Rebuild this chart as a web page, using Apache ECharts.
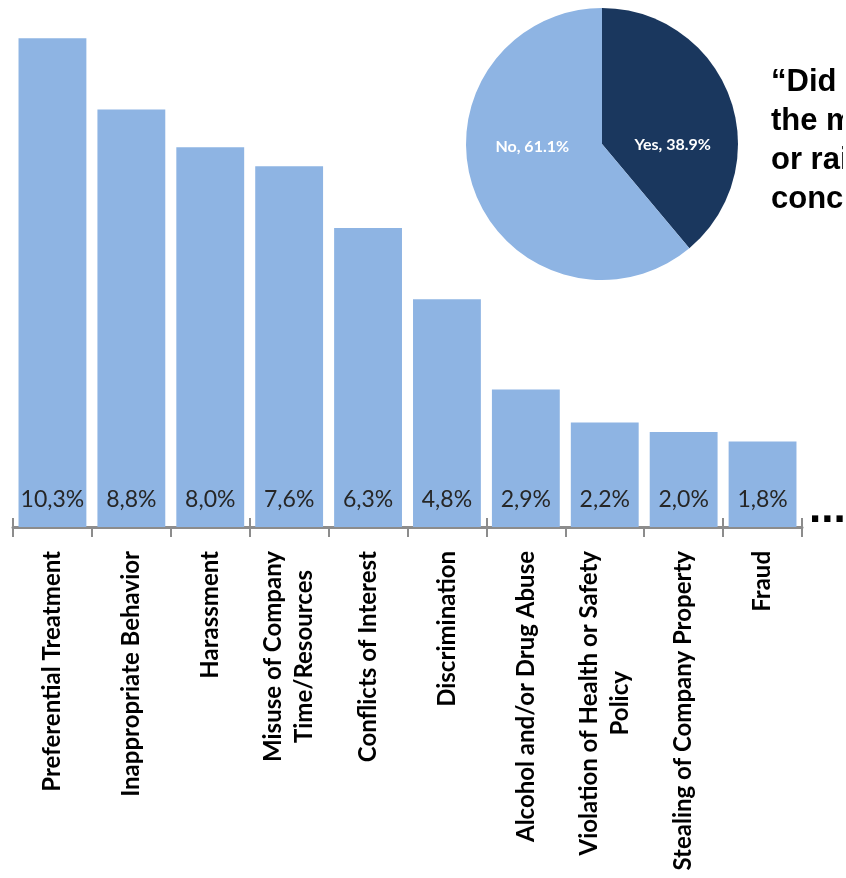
<!DOCTYPE html>
<html>
<head>
<meta charset="utf-8">
<script src="https://cdn.jsdelivr.net/npm/echarts@6/dist/echarts.min.js"></script>
<style>
  html, body { margin: 0; padding: 0; background: #fff; }
  #main { width: 846px; height: 878px; }
</style>
</head>
<body>
<div id="main"></div>
<script>
// categories and values
var categories = [
  'Preferential Treatment',
  'Inappropriate Behavior',
  'Harassment',
  'Misuse of Company\nTime/Resources',
  'Conflicts of Interest',
  'Discrimination',
  'Alcohol and/or Drug Abuse',
  'Violation of Health or Safety\nPolicy',
  'Stealing of Company Property',
  'Fraud'
];
var percents = [10.3, 8.8, 8.0, 7.6, 6.3, 4.8, 2.9, 2.2, 2.0, 1.8];

var pieNames = ['Yes', 'No'];
var pieValues = [38.9, 61.1];
var pieColors = ['#1a375e', '#8eb4e3'];
var pieLabelShift = [[4, 25], [-3, -21]]; // moves labels onto one line

var question = '\u201CDid you report\nthe misconduct\nor raise your\nconcern?\u201D';

var pieData = [];
for (var i = 0; i < pieNames.length; i++) {
  pieData.push({ name: pieNames[i], value: pieValues[i], itemStyle: { color: pieColors[i] } });
}

var myChart = echarts.init(document.getElementById('main'));
var option = {
  backgroundColor: '#ffffff',
  animation: false,
  grid: {
    left: 13,
    right: 44,
    top: 5,
    bottom: 351
  },
  xAxis: [
    {
      type: 'category',
      data: categories,
      axisLine: { lineStyle: { color: '#8c8c8c', width: 3 } },
      axisTick: { show: true, length: 10, lineStyle: { color: '#8c8c8c', width: 2 } },
      axisLabel: {
        interval: 0,
        rotate: 90,
        margin: 24,
        formatter: function (value) {
          return value.split('\n').map(function (s) { return '{c|' + s + '}'; }).join('\n');
        },
        rich: {
          c: {
            align: 'center',
            fontFamily: 'Lato',
            fontWeight: 'bold',
            fontSize: 24,
            lineHeight: 31,
            color: '#000'
          }
        }
      }
    },
    {
      // second axis only for the ticks that poke up above the line
      type: 'category',
      data: categories,
      position: 'bottom',
      axisLine: { show: false },
      axisTick: { show: true, inside: true, length: 9, lineStyle: { color: '#8c8c8c', width: 2 } },
      axisLabel: { show: false }
    }
  ],
  yAxis: {
    type: 'value',
    min: 0,
    max: 11,
    show: false,
    splitLine: { show: false }
  },
  series: [
    {
      type: 'bar',
      data: percents,
      barCategoryGap: '14%',
      itemStyle: { color: '#8eb4e3' },
      label: {
        show: true,
        position: 'insideBottom',
        distance: 16,
        fontFamily: 'Lato',
        fontSize: 23,
        color: '#262626',
        formatter: function (p) {
          return p.value.toFixed(1).replace('.', ',') + '%';
        }
      }
    },
    {
      type: 'pie',
      center: [602, 144],
      radius: 136,
      startAngle: 90,
      clockwise: true,
      data: pieData,
      label: {
        show: true,
        position: 'inside',
        color: '#ffffff',
        fontFamily: 'Lato',
        fontWeight: 'bold',
        fontSize: 16,
        formatter: function (p) {
          return p.name + ', ' + p.value.toFixed(1) + '%';
        }
      },
      labelLayout: function (params) {
        var s = pieLabelShift[params.dataIndex];
        return { dx: s[0], dy: s[1] };
      },
      labelLine: { show: false }
    }
  ],
  graphic: [
    {
      type: 'text',
      left: 771,
      top: 63,
      style: {
        text: question,
        font: 'bold 31px "Liberation Sans", Arial, sans-serif',
        lineHeight: 39,
        fill: '#000'
      }
    },
    {
      // the slide is cropped just before the page edge
      type: 'rect',
      z: 100,
      shape: { x: 843, y: 55, width: 3, height: 165 },
      style: { fill: '#ffffff' }
    },
    {
      type: 'text',
      x: 809,
      y: 488,
      style: {
        text: '...',
        font: 'bold 44px "Liberation Sans", Arial, sans-serif',
        fill: '#000'
      }
    }
  ]
};
myChart.setOption(option);
</script>
</body>
</html>
